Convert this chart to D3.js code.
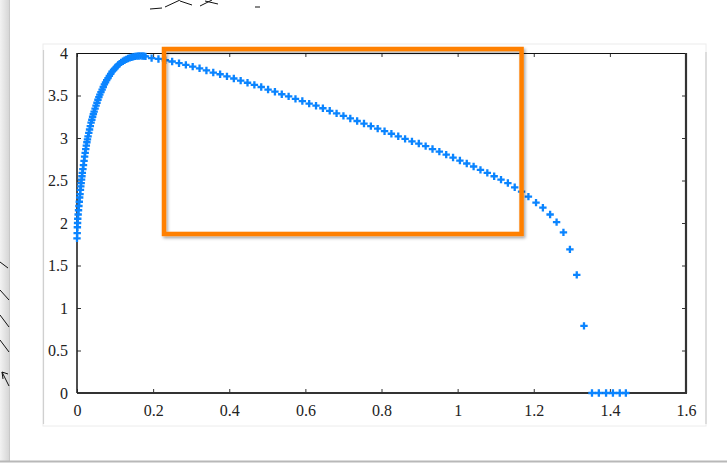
<!DOCTYPE html>
<html>
<head>
<meta charset="utf-8">
<script src="https://cdn.jsdelivr.net/npm/d3@7"></script>
<style>
body{margin:0;background:#fff;}
svg{display:block;}
.tick text{font-family:"Liberation Serif","DejaVu Serif",serif;font-size:16px;fill:#222;}
</style>
</head>
<body>
<svg id="chart"></svg>
<script>
// curve points (x , y), dense near the start
var xVals = [0.000,0.0005,0.001,0.0015,0.002,0.003,0.004,0.005,0.006,0.007,0.008,0.009,0.010,0.011,0.012,0.013,0.014,0.0155,0.017,0.0185,0.020,0.0215,0.023,0.0245,0.026,0.0275,0.029,0.031,0.033,0.035,0.037,0.039,0.041,0.043,0.045,0.0475,0.050,0.0525,0.055,0.0575,0.060,0.063,0.066,0.069,0.072,0.075,0.078,0.0815,0.085,0.0885,0.092,0.096,0.100,0.104,0.108,0.112,0.116,0.1205,0.125,0.1295,0.134,0.1385,0.143,0.1475,0.152,0.157,0.162,0.167,0.172,0.176,0.180,
  0.196,0.214,0.232,0.250,0.268,0.286,0.304,0.322,0.340,0.358,0.376,0.394,0.412,0.430,0.448,0.466,0.484,0.502,0.520,0.538,0.556,0.574,0.592,0.610,0.628,0.646,0.664,0.682,0.700,0.718,0.736,0.754,0.772,0.790,0.808,0.826,0.844,0.862,0.880,0.898,0.916,0.934,0.952,0.970,0.988,1.006,1.024,1.042,1.060,1.078,1.096,1.114,1.132,1.150,1.168,1.186,
  1.206,1.224,1.243,1.260,1.278,1.295,1.313,1.332,
  1.353,1.371,1.390,1.408,1.426,1.442]
var yVals = [1.82,1.88,1.95,2.00,2.05,2.10,2.15,2.20,2.25,2.30,2.34,2.39,2.43,2.47,2.51,2.55,2.59,2.635,2.68,2.73,2.78,2.825,2.87,2.91,2.95,2.985,3.02,3.06,3.10,3.14,3.18,3.215,3.25,3.28,3.31,3.345,3.38,3.415,3.45,3.48,3.51,3.54,3.57,3.60,3.63,3.655,3.68,3.705,3.73,3.755,3.78,3.80,3.82,3.84,3.86,3.875,3.89,3.903,3.915,3.925,3.935,3.943,3.95,3.955,3.96,3.963,3.965,3.966,3.965,3.963,3.96,
  3.94,3.93,3.915,3.90,3.88,3.86,3.84,3.82,3.795,3.77,3.75,3.725,3.70,3.675,3.65,3.625,3.60,3.57,3.545,3.515,3.49,3.46,3.435,3.405,3.38,3.35,3.32,3.29,3.26,3.23,3.20,3.17,3.14,3.11,3.08,3.05,3.02,2.99,2.96,2.935,2.905,2.87,2.84,2.805,2.77,2.735,2.70,2.665,2.625,2.59,2.55,2.51,2.47,2.42,2.37,2.31,
  2.24,2.18,2.10,2.01,1.89,1.69,1.39,0.79,
  0,0,0,0,0,0]

var xTicks = [0,0.2,0.4,0.6,0.8,1,1.2,1.4,1.6]
var yTicks = [0,0.5,1,1.5,2,2.5,3,3.5,4]

// highlight box (data coords)
var boxX = [0.2286,1.168]
var boxY = [1.871,4.047]

var screen = {width:727,height:464}
var margins = {left:77,top:53,right:41,bottom:71}
var graph = {width:screen.width-margins.left-margins.right,
             height:screen.height-margins.top-margins.bottom}

var svg = d3.select("#chart")
    .attr("width",screen.width)
    .attr("height",screen.height)

//background bits (screenshot frame)
var defs = svg.append("defs")
var grad = defs.append("linearGradient").attr("id","edge")
grad.append("stop").attr("offset","0%").attr("stop-color","#f2f2f2")
grad.append("stop").attr("offset","100%").attr("stop-color","#d6d6d6")
var sh = defs.append("filter").attr("id","shadow")
    .attr("x","-10%").attr("y","-10%").attr("width","120%").attr("height","130%")
sh.append("feDropShadow").attr("dx",1.5).attr("dy",2).attr("stdDeviation",1.5)
    .attr("flood-color","#000").attr("flood-opacity",0.35)

svg.append("rect").attr("x",0).attr("y",0).attr("width",9).attr("height",462)
    .attr("fill","url(#edge)")
svg.append("line").attr("x1",9.5).attr("x2",9.5).attr("y1",0).attr("y2",462)
    .attr("stroke","#c8c8c8")
svg.append("line").attr("x1",0).attr("x2",screen.width).attr("y1",461.5).attr("y2",461.5)
    .attr("stroke","#b8b8b8").attr("stroke-width",2)

//panel
svg.append("rect").attr("x",43).attr("y",44).attr("width",663).attr("height",382)
    .attr("fill","#fff").attr("stroke","#ececec")
svg.append("line").attr("x1",43.5).attr("x2",43.5).attr("y1",50).attr("y2",424)
    .attr("stroke","#d0d0d0").attr("stroke-width",1.2)
svg.append("line").attr("x1",706).attr("x2",706).attr("y1",52).attr("y2",424)
    .attr("stroke","#d4d4d4").attr("stroke-width",1.5)

//stray arrows from the slide
var strokes = [[0,262,8,268],[0,290,9,300],[0,315,9,327],[0,340,9,352],[2,372,9,386],[2,372,3,379],[2,372,8,374],
               [150,9,162,8],[165,7,180,0],[180,1,192,5],[200,6,212,0],[205,1,218,4],[255,7,260,7]]
svg.append("g").selectAll("line").data(strokes).enter().append("line")
    .attr("x1",function(d){return d[0]}).attr("y1",function(d){return d[1]})
    .attr("x2",function(d){return d[2]}).attr("y2",function(d){return d[3]})
    .attr("stroke","#111").attr("stroke-width",1)

var target = svg.append("g")
    .attr("transform","translate("+margins.left+","+margins.top+")")

var xScale = d3.scaleLinear().domain([0,1.6]).range([0,graph.width])
var yScale = d3.scaleLinear().domain([0,4]).range([graph.height,0])

//axes (ticks inward)
var fmt = function(d){return d3.format("~g")(d)}
target.append("g")
    .attr("transform","translate(0,"+graph.height+")")
    .call(d3.axisBottom(xScale).tickValues(xTicks).tickFormat(fmt).tickSize(-4).tickPadding(12))
target.append("g")
    .call(d3.axisTop(xScale).tickValues(xTicks).tickFormat("").tickSize(-4))
target.append("g")
    .call(d3.axisLeft(yScale).tickValues(yTicks).tickFormat(fmt).tickSize(-4).tickPadding(9))
target.append("g")
    .attr("transform","translate("+graph.width+",0)")
    .call(d3.axisRight(yScale).tickValues(yTicks).tickFormat("").tickSize(-4))
target.selectAll(".domain").remove()
target.selectAll(".tick line").attr("stroke","#333")

//box
target.append("line").attr("x1",0).attr("x2",graph.width).attr("y1",0.5).attr("y2",0.5)
    .attr("stroke","#111").attr("stroke-width",1.2)
target.append("line").attr("x1",graph.width).attr("x2",graph.width).attr("y1",0).attr("y2",graph.height)
    .attr("stroke","#333").attr("stroke-width",2.2)
target.append("line").attr("x1",0).attr("x2",graph.width+1).attr("y1",graph.height).attr("y2",graph.height)
    .attr("stroke","#333").attr("stroke-width",2.2)
target.append("line").attr("x1",0).attr("x2",0).attr("y1",0).attr("y2",graph.height)
    .attr("stroke","#222").attr("stroke-width",1.6)

//plus markers
var pts = xVals.map(function(x,i){return {x:x,y:yVals[i]}})
var s = 3.7
target.append("g").selectAll("path").data(pts).enter().append("path")
    .attr("d",function(p){
        var cx = xScale(p.x), cy = yScale(p.y)
        return "M"+(cx-s)+","+cy+"H"+(cx+s)+"M"+cx+","+(cy-s)+"V"+(cy+s)
    })
    .attr("stroke","#0a84ff").attr("stroke-width",2.3).attr("fill","none")

//orange highlight
target.append("rect")
    .attr("x",xScale(boxX[0]))
    .attr("y",yScale(boxY[1]))
    .attr("width",xScale(boxX[1])-xScale(boxX[0]))
    .attr("height",yScale(boxY[0])-yScale(boxY[1]))
    .attr("fill","none").attr("stroke","#ff8000").attr("stroke-width",4.5)
    .attr("filter","url(#shadow)")
</script>
</body>
</html>
